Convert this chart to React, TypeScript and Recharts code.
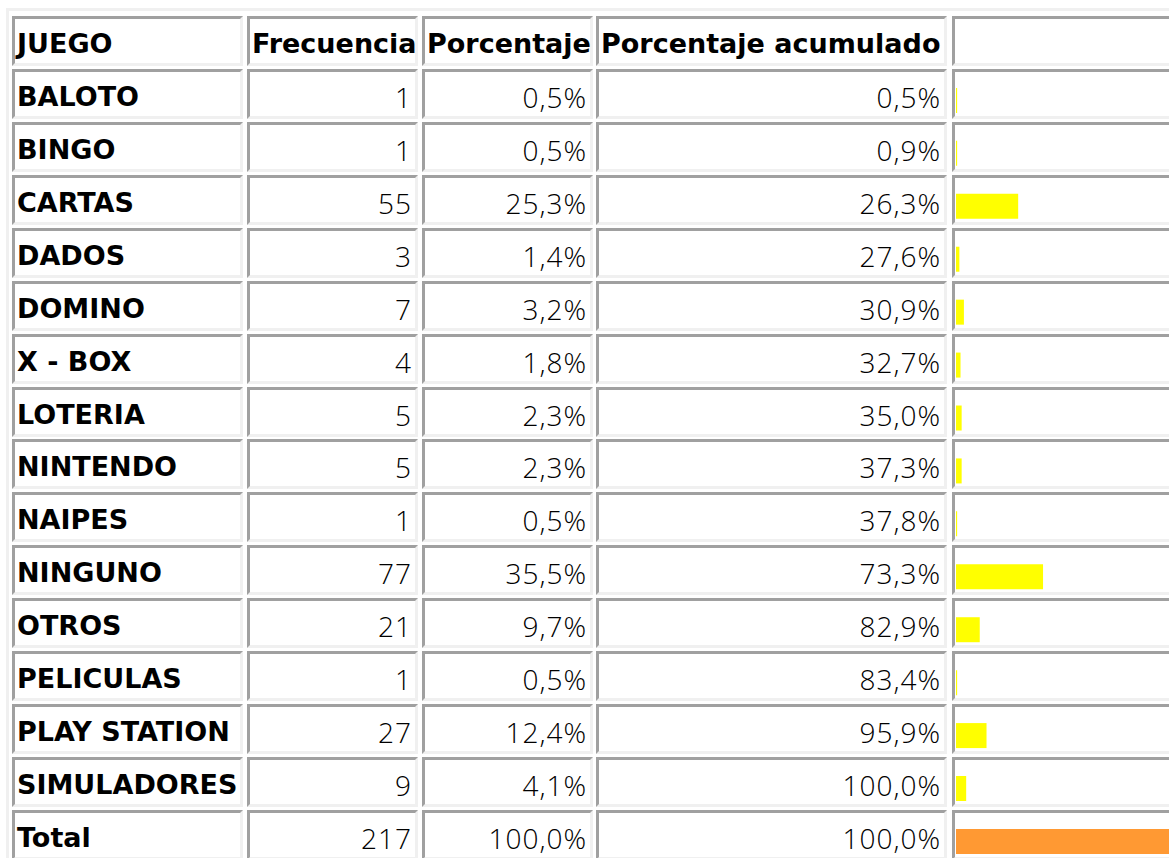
import { Bar, BarChart, Cell, XAxis, YAxis } from 'recharts';

// Datos de la tabla
const juegos = [
  'BALOTO', 'BINGO', 'CARTAS', 'DADOS', 'DOMINO', 'X - BOX', 'LOTERIA',
  'NINTENDO', 'NAIPES', 'NINGUNO', 'OTROS', 'PELICULAS', 'PLAY STATION', 'SIMULADORES',
];
const frecuencia = [1, 1, 55, 3, 7, 4, 5, 5, 1, 77, 21, 1, 27, 9];
const porcentaje = [
  '0,5%', '0,5%', '25,3%', '1,4%', '3,2%', '1,8%', '2,3%',
  '2,3%', '0,5%', '35,5%', '9,7%', '0,5%', '12,4%', '4,1%',
];
const acumulado = [
  '0,5%', '0,9%', '26,3%', '27,6%', '30,9%', '32,7%', '35,0%',
  '37,3%', '37,8%', '73,3%', '82,9%', '83,4%', '95,9%', '100,0%',
];
const encabezados = ['JUEGO', 'Frecuencia', 'Porcentaje', 'Porcentaje acumulado', ''];
const totalFrecuencia = 217;
const totalPorcentaje = '100,0%';
const totalAcumulado = '100,0%';

const ROW_TOP = 16;
const ROW_PITCH = 52.93;
const CELL_H = 50;
const COLS = [
  { x: 12, w: 231 },
  { x: 247, w: 171 },
  { x: 422, w: 171 },
  { x: 596, w: 351 },
  { x: 952, w: 300 },
];

const LABEL_FONT = '"DejaVu Sans", sans-serif';
const NUM_FONT = '"Open Sans", sans-serif';

type Row = { key: string; cells: string[]; bold: boolean[] };

const rows: Row[] = [
  { key: 'h', cells: encabezados, bold: [true, true, true, true, true] },
  ...juegos.map((j, i) => ({
    key: j,
    cells: [j, String(frecuencia[i]), porcentaje[i], acumulado[i], ''],
    bold: [true, false, false, false, false],
  })),
  {
    key: 'total',
    cells: ['Total', String(totalFrecuencia), totalPorcentaje, totalAcumulado, ''],
    bold: [true, false, false, false, false],
  },
];

const chartData = [
  { juego: 'JUEGO', valor: null as number | null },
  ...juegos.map((j, i) => ({ juego: j, valor: frecuencia[i] as number | null })),
  { juego: 'Total', valor: totalFrecuencia as number | null },
];

const TableCell = ({ row, col, text, bold }: { row: number; col: number; text: string; bold: boolean }) => {
  const c = COLS[col];
  const alignLeft = col === 0 || row === 0;
  return (
    <div
      style={{
        position: 'absolute',
        left: c.x,
        top: Math.round(ROW_TOP + row * ROW_PITCH),
        width: c.w,
        height: CELL_H,
        boxSizing: 'border-box',
        borderTop: '3px solid #a0a0a0',
        borderLeft: '3px solid #a0a0a0',
        borderBottom: '3px solid #f0f0f0',
        borderRight: '3px solid #f0f0f0',
        background: '#fff',
      }}
    >
      <div
        style={{
          position: 'absolute',
          left: alignLeft ? 2 : undefined,
          right: alignLeft ? undefined : 3,
          top: 7,
          lineHeight: '36px',
          whiteSpace: 'nowrap',
          fontFamily: bold ? LABEL_FONT : NUM_FONT,
          fontWeight: bold ? 700 : 300,
          fontSize: bold ? 27 : 28,
          letterSpacing: bold ? 0 : 1,
          color: '#000',
        }}
      >
        {text}
      </div>
    </div>
  );
};

const App = () => {
  return (
    <div
      style={{
        position: 'absolute',
        left: 0,
        top: 0,
        width: 1169,
        height: 858,
        overflow: 'hidden',
        background: '#fff',
      }}
    >
      {/* borde exterior de la tabla */}
      <div
        style={{
          position: 'absolute',
          left: 6,
          top: 8,
          width: 1300,
          height: 900,
          boxSizing: 'border-box',
          borderTop: '3px solid #f0f0f0',
          borderLeft: '3px solid #f0f0f0',
        }}
      />
      {rows.map((r, ri) =>
        r.cells.map((t, ci) => (
          <TableCell key={`${r.key}-${ci}`} row={ri} col={ci} text={t} bold={r.bold[ci]} />
        ))
      )}
      <div style={{ position: 'absolute', left: 956, top: ROW_TOP + 5 }}>
        <BarChart
          width={260}
          height={ROW_PITCH * chartData.length}
          data={chartData}
          layout="vertical"
          margin={{ top: 0, right: 0, bottom: 0, left: 0 }}
        >
          <XAxis type="number" domain={[0, 230]} hide />
          <YAxis type="category" dataKey="juego" hide />
          <Bar dataKey="valor" barSize={25} isAnimationActive={false}>
            {chartData.map((d) => (
              <Cell key={d.juego} fill={d.juego === 'Total' ? '#ff9933' : '#ffff00'} />
            ))}
          </Bar>
        </BarChart>
      </div>
    </div>
  );
};

export default App;
